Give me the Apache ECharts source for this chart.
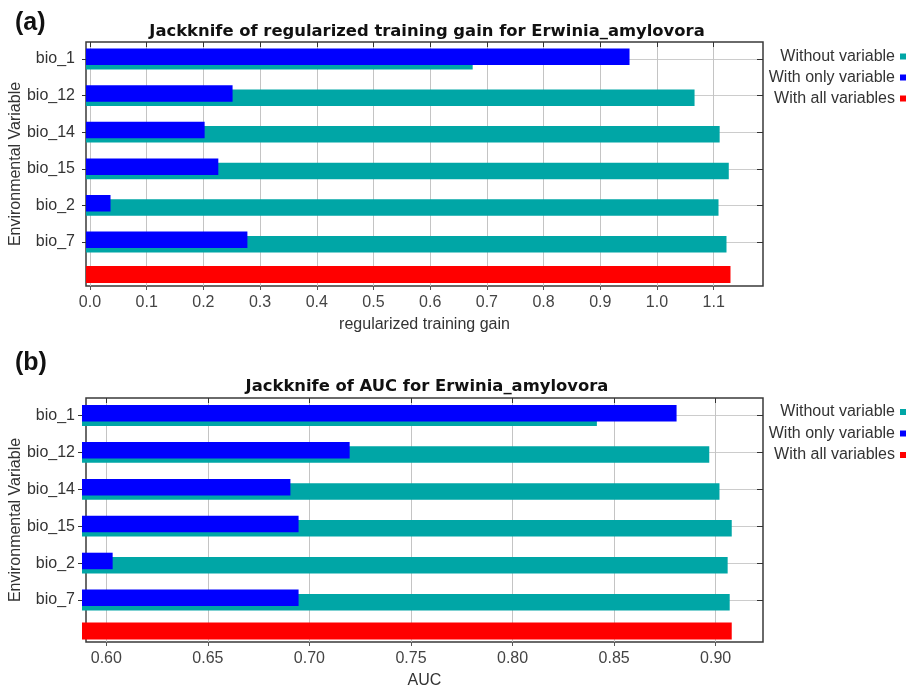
<!DOCTYPE html>
<html>
<head>
<meta charset="utf-8">
<script src="https://cdn.jsdelivr.net/npm/echarts@6/dist/echarts.min.js"></script>
<style>
  html, body { margin: 0; padding: 0; background: #ffffff; }
  #main { width: 916px; height: 693px; }
</style>
</head>
<body>
<div id="main"></div>
<script>
// Jackknife test of variable importance (MaxEnt) for Erwinia_amylovora
const variables = ['bio_1', 'bio_12', 'bio_14', 'bio_15', 'bio_2', 'bio_7'];

// (a) regularized training gain
const gainWithout = [0.678, 1.067, 1.111, 1.127, 1.109, 1.123];
const gainOnly    = [0.953, 0.257, 0.208, 0.232, 0.043, 0.283];
const gainAll     = [1.130];
const gainTicks   = [0.0, 0.1, 0.2, 0.3, 0.4, 0.5, 0.6, 0.7, 0.8, 0.9, 1.0, 1.1];

// (b) AUC
const aucWithout = [0.842, 0.897, 0.902, 0.908, 0.906, 0.907];
const aucOnly    = [0.881, 0.721, 0.692, 0.696, 0.605, 0.696];
const aucAll     = [0.908];
const aucTicks   = [0.60, 0.65, 0.70, 0.75, 0.80, 0.85, 0.90];

const legendNames = ['Without variable', 'With only variable', 'With all variables'];
const COLORS = { without: '#00a6a6', only: '#0000ff', all: '#ff0000' };
const FONT = '"Liberation Sans", Arial, sans-serif';

const panels = [
  {
    tag: '(a)', tagTop: 6,
    title: 'Jackknife of regularized training gain for Erwinia_amylovora', titleTop: 20,
    axisName: 'regularized training gain',
    min: -0.007, max: 1.187, barStart: 0, ticks: gainTicks, digits: 1,
    without: gainWithout, only: gainOnly, all: gainAll,
    frameTop: 42, frameHeight: 244,
    rowTop: 59, rowHeight: 183, allCenter: 274.5,
    legendTop: [56.5, 77.5, 98.5]
  },
  {
    tag: '(b)', tagTop: 346,
    title: 'Jackknife of AUC for Erwinia_amylovora', titleTop: 375,
    axisName: 'AUC',
    min: 0.590, max: 0.9233, barStart: 0.590, ticks: aucTicks, digits: 2,
    without: aucWithout, only: aucOnly, all: aucAll,
    frameTop: 398, frameHeight: 244,
    rowTop: 415.5, rowHeight: 184.5, allCenter: 631,
    legendTop: [412, 433.5, 455]
  }
];

const option = {
  backgroundColor: '#ffffff',
  animation: false,
  textStyle: { fontFamily: FONT },
  title: [], legend: [], grid: [], xAxis: [], yAxis: [], series: []
};

const PLOT_LEFT = 82, PLOT_WIDTH = 681, BAR_W = 16.5;

panels.forEach(function (p) {
  const gFrame = option.grid.length;
  const gRows = gFrame + 1;
  const gAll = gFrame + 2;

  option.title.push(
    { text: p.tag, left: 10, top: p.tagTop,
      textStyle: { fontFamily: FONT, fontSize: 25, fontWeight: 'bold', color: '#111' } },
    { text: p.title, left: 422, top: p.titleTop - 1, textAlign: 'center',
      textStyle: { fontFamily: '"DejaVu Sans", sans-serif', fontSize: 16.4, fontWeight: 'bold', color: '#111' } }
  );

  legendNames.forEach(function (name, i) {
    option.legend.push({
      data: [name], right: 10, top: p.legendTop[i] - 8, align: 'right',
      icon: 'rect', itemWidth: 6, itemHeight: 6, selectedMode: false,
      padding: 0,
      textStyle: { fontFamily: FONT, fontSize: 16, color: '#333', lineHeight: 16 }
    });
  });

  // frame with value ticks, the variable rows, and the all-variables row
  option.grid.push(
    { left: PLOT_LEFT, top: p.frameTop, width: PLOT_WIDTH, height: p.frameHeight,
      show: true, borderColor: '#3a3a3a', borderWidth: 1.5 },
    { left: PLOT_LEFT, top: p.rowTop, width: PLOT_WIDTH, height: p.rowHeight },
    { left: PLOT_LEFT, top: p.allCenter - 10, width: PLOT_WIDTH, height: 20 }
  );

  const fmt = function (v) { return Number(v).toFixed(p.digits); };

  const xFrame = option.xAxis.length;
  option.xAxis.push(
    { type: 'value', gridIndex: gFrame, position: 'bottom', min: p.min, max: p.max,
      name: p.axisName, nameLocation: 'middle', nameGap: 31,
      nameTextStyle: { fontFamily: FONT, fontSize: 16, color: '#333' },
      axisLine: { show: false },
      axisTick: { show: true, length: 4, customValues: p.ticks, lineStyle: { color: '#555' } },
      axisLabel: { customValues: p.ticks, formatter: fmt, margin: 9,
                   fontFamily: FONT, fontSize: 16, color: '#444' },
      splitLine: { show: true, lineStyle: { color: '#c4c4c4', width: 1 } } },
    { type: 'value', gridIndex: gFrame, position: 'top', min: p.min, max: p.max,
      axisLine: { show: false },
      axisTick: { show: true, inside: true, length: 5, customValues: p.ticks, lineStyle: { color: '#333' } },
      axisLabel: { show: false }, splitLine: { show: false } },
    { type: 'value', gridIndex: gRows, min: p.min, max: p.max, startValue: p.barStart, show: false },
    { type: 'value', gridIndex: gAll, min: p.min, max: p.max, startValue: p.barStart, show: false }
  );

  const yFrame = option.yAxis.length;
  option.yAxis.push(
    { type: 'value', gridIndex: gFrame, min: 0, max: 1,
      name: 'Environmental Variable', nameLocation: 'middle', nameGap: 62,
      nameTextStyle: { fontFamily: FONT, fontSize: 16, color: '#333' },
      axisLine: { show: false }, axisTick: { show: false },
      axisLabel: { show: false }, splitLine: { show: false } },
    { type: 'category', gridIndex: gRows, data: variables, inverse: true, boundaryGap: false,
      axisLine: { show: false },
      axisTick: { show: true, length: 4, lineStyle: { color: '#333' } },
      axisLabel: { margin: 7, fontFamily: FONT, fontSize: 16, color: '#333' },
      splitLine: { show: true, lineStyle: { color: '#cccccc', width: 1 } } },
    { type: 'category', gridIndex: gRows, data: variables, inverse: true, boundaryGap: false,
      position: 'right',
      axisLine: { show: false },
      axisTick: { show: true, inside: true, length: 6, lineStyle: { color: '#333' } },
      axisLabel: { show: false }, splitLine: { show: false } },
    { type: 'category', gridIndex: gAll, data: [''], show: false }
  );

  option.series.push(
    { type: 'bar', name: 'With only variable', xAxisIndex: xFrame + 2, yAxisIndex: yFrame + 1,
      data: p.only, barWidth: BAR_W, barGap: '-74%', clip: false, z: 3,
      itemStyle: { color: COLORS.only } },
    { type: 'bar', name: 'Without variable', xAxisIndex: xFrame + 2, yAxisIndex: yFrame + 1,
      data: p.without, barWidth: BAR_W, barGap: '-74%', clip: false, z: 2,
      itemStyle: { color: COLORS.without } },
    { type: 'bar', name: 'With all variables', xAxisIndex: xFrame + 3, yAxisIndex: yFrame + 3,
      data: p.all, barWidth: 17, clip: false, z: 2,
      itemStyle: { color: COLORS.all } }
  );
});

const chart = echarts.init(document.getElementById('main'), null, { renderer: 'canvas' });
chart.setOption(option);
</script>
</body>
</html>
